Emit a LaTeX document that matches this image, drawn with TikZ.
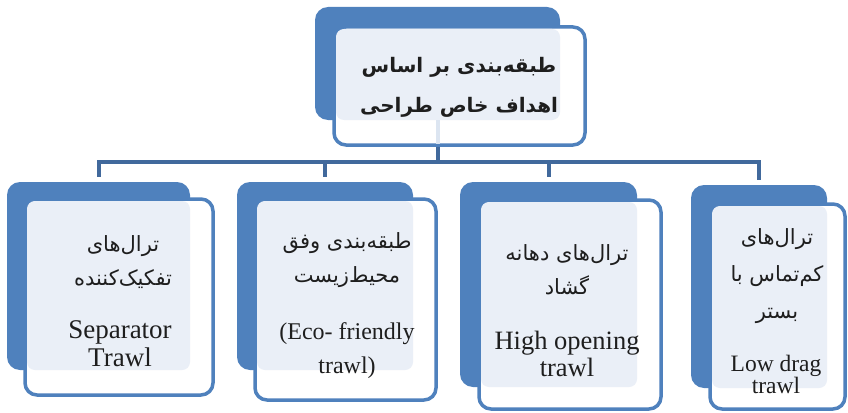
\documentclass[tikz,border=0pt]{standalone}
\usepackage{fontspec}
\setmainfont{Liberation Serif}
\newfontfamily\fa[Script=Arabic]{DejaVu Sans}
\TeXXeTstate=1
\usetikzlibrary{fit}
\definecolor{accent}{HTML}{4F81BD}
\definecolor{busblue}{HTML}{41699C}
\definecolor{pale}{HTML}{EAEFF7}
\definecolor{ghost}{HTML}{DCE5F1}
\definecolor{ink}{HTML}{1E1E1E}
\begin{document}
\begin{tikzpicture}[x=1pt,y=-1pt,
  backbox/.style={fill=accent, rounded corners=13pt, inner sep=0pt},
  frontbox/.style={draw=accent, line width=3.5pt, fill=white, rounded corners=12pt, inner sep=0pt},
  textarea/.style={fill=pale, rounded corners=8pt, inner sep=0pt},
  conn/.style={draw=busblue, line width=4pt, miter limit=10},
  fatext/.style={text=ink, align=center, inner sep=0pt, font=\fa\fontsize{21}{34}\selectfont},
  entext/.style={text=ink, align=center, inner sep=0pt},
]
\useasboundingbox (0,0) rectangle (848,412);
% connector anchors
\coordinate (bus) at (437,162);
% back boxes
\node[backbox, fit={(315,7) (560,120)}] (b0) {};
\node[backbox, fit={(7,182) (190,370)}] (b1) {};
\node[backbox, fit={(237,182) (413,370)}] (b2) {};
\node[backbox, fit={(460,182) (637,387)}] (b3) {};
\node[backbox, fit={(691,185) (827,388)}] (b4) {};
% connectors
\draw[conn] (b0.south) -- (b0.south |- bus);
\draw[conn] ([yshift=5pt]b1.north) -- (b1.north |- bus) -- (b4.north |- bus) -- ([yshift=5pt]b4.north);
\draw[conn] (b2.north |- bus) -- ([yshift=5pt]b2.north);
\draw[conn] (b3.north |- bus) -- ([yshift=5pt]b3.north);
% front boxes
\node[frontbox, fit={(334,27) (585,145)}] (f0) {};
\node[frontbox, fit={(25,199) (213,395)}] (f1) {};
\node[frontbox, fit={(255,199) (436,400)}] (f2) {};
\node[frontbox, fit={(479,200) (661,409)}] (f3) {};
\node[frontbox, fit={(710,204) (845,409)}] (f4) {};
% light text areas
\node[textarea, fit={(336,29) (560,120)}] (a0) {};
\node[textarea, fit={(27,201) (190,370)}] (a1) {};
\node[textarea, fit={(257,201) (413,370)}] (a2) {};
\node[textarea, fit={(481,202) (637,387)}] (a3) {};
\node[textarea, fit={(712,206) (827,388)}] (a4) {};
% faint trace of the stem seen through the top box
\draw[ghost, line width=4pt] (a0.south -| b0.south) -- ([yshift=3pt]f0.south -| b0.south);
% texts
\node[fatext, font=\fa\bfseries\fontsize{20}{40}\selectfont] (t0) at (459,87)
  {\beginR طبقه‌بندی بر اساس\endR\\\beginR اهداف خاص طراحی\endR};
\node[fatext] (p1) at (123,262) {\beginR ترال‌های\endR\\\beginR تفکیک‌کننده\endR};
\node[entext, font=\fontsize{27}{28}\selectfont] (e1) at (120,344) {Separator\\Trawl};
\node[fatext] (p2) at (347,260) {\beginR طبقه‌بندی وفق\endR\\\beginR محیط‌زیست\endR};
\node[entext, font=\fontsize{24}{34}\selectfont] (e2) at (347,351) {(Eco- friendly\\trawl)};
\node[fatext] (p3) at (567,270) {\beginR ترال‌های دهانه\endR\\\beginR گشاد\endR};
\node[entext, font=\fontsize{26.5}{27}\selectfont] (e3) at (567,354) {High opening\\trawl};
\node[fatext, font=\fa\fontsize{21}{37}\selectfont] (p4) at (777,276) {\beginR ترال‌های\endR\\\beginR کم‌تماس با\endR\\\beginR بستر\endR};
\node[entext, font=\fontsize{23.5}{22}\selectfont] (e4) at (776,374) {Low drag\\trawl};
\end{tikzpicture}
\end{document}
